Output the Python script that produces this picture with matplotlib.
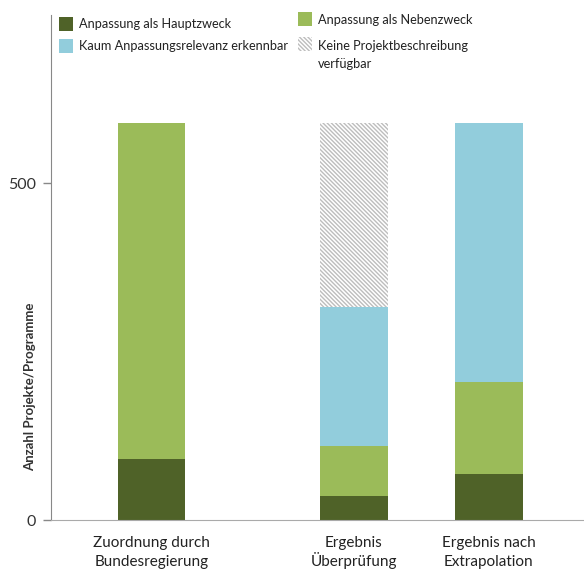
import numpy as np
import matplotlib
matplotlib.use("Agg")
import matplotlib.pyplot as plt
import matplotlib.transforms as mtransforms
from matplotlib.patches import Rectangle

plt.rcParams['font.family'] = ['Lato', 'DejaVu Sans']
plt.rcParams['hatch.linewidth'] = 1.0
plt.rcParams['hatch.color'] = '#bdbdbd'

# Werte (Anzahl Projekte/Programme)
kategorien = ['Zuordnung durch\nBundesregierung', 'Ergebnis\nÜberprüfung', 'Ergebnis nach\nExtrapolation']
positionen = [0, 1.5, 2.5]
hauptzweck = [90, 36, 68]
nebenzweck = [499, 74, 137]
kaum_relevanz = [0, 206, 384]
keine_beschreibung = [0, 273, 0]

farbe_haupt = '#4f6228'
farbe_neben = '#9bbb59'
farbe_kaum = '#92cddc'
schraffur = '\\' * 8

W, H = 584, 569
fig = plt.figure(figsize=(W / 100, H / 100), dpi=100)
ax = fig.add_axes([51 / W, 1 - 520 / H, 1 - 51 / W, (520 - 15) / H])

b0 = np.zeros(3)
ax.bar(positionen, hauptzweck, width=0.5, bottom=b0, color=farbe_haupt)
b0 = b0 + hauptzweck
ax.bar(positionen, nebenzweck, width=0.5, bottom=b0, color=farbe_neben)
b0 = b0 + nebenzweck
ax.bar(positionen, kaum_relevanz, width=0.5, bottom=b0, color=farbe_kaum)
b0 = b0 + kaum_relevanz
ax.bar(positionen, keine_beschreibung, width=0.5, bottom=b0, color='white',
       linewidth=0, hatch=schraffur)

ax.set_xlim(-0.747, 3.206)
ax.set_ylim(0, 750)
ax.set_yticks([0, 500])
ax.set_xticks(positionen)
ax.set_xticklabels([''] * len(positionen))
ax.tick_params(axis='x', length=0)
ax.tick_params(axis='y', length=6, width=1, color='#888888', labelsize=11.5,
               labelcolor='#333333', pad=5)

# Kategorienbeschriftung zeilenweise, damit die Grundlinien gleich liegen
trans = mtransforms.blended_transform_factory(ax.transData, fig.transFigure)
for pos, kat in zip(positionen, kategorien):
    for zeile, basis in zip(kat.split('\n'), [547, 566]):
        ax.text(pos, 1 - basis / H, zeile, transform=trans, fontsize=11,
                color='#222222', ha='center', va='baseline')

for s in ['top', 'right']:
    ax.spines[s].set_visible(False)
ax.spines['left'].set_color('#888888')
ax.spines['bottom'].set_color('#aaaaaa')

fig.text(30 / W, 1 - 387 / H, 'Anzahl Projekte/Programme', rotation=90,
         ha='center', va='center', fontsize=9.5, fontweight='bold', color='#333333')

# Legende (zwei Spalten, wie im Original)
legende = [
    (59, 17, farbe_haupt, None, 'Anpassung als Hauptzweck', 24),
    (59, 39, farbe_kaum, None, 'Kaum Anpassungsrelevanz erkennbar', 46),
    (298, 12, farbe_neben, None, 'Anpassung als Nebenzweck', 20),
    (298, 37, 'white', schraffur, 'Keine Projektbeschreibung', 46),
]
for x, y, farbe, muster, text, ty in legende:
    fig.add_artist(Rectangle((x / W, 1 - (y + 14) / H), 14 / W, 14 / H,
                             transform=fig.transFigure, facecolor=farbe,
                             hatch=muster, linewidth=0))
    fig.text((x + 20) / W, 1 - ty / H, text, fontsize=9.2, color='#222222',
             ha='left', va='center')
fig.text(318 / W, 1 - 64 / H, 'verfügbar', fontsize=9.2, color='#222222',
         ha='left', va='center')

fig.savefig('out.png', dpi=100)
